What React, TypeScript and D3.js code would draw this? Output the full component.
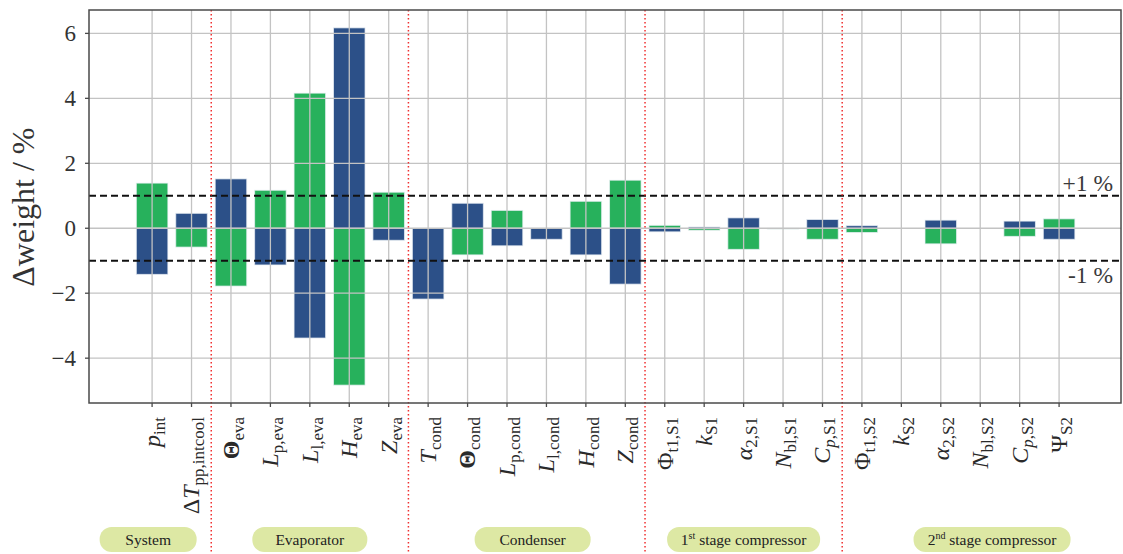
import React from "react";
import * as d3 from "d3";

// Parameter symbols: main glyph, whether it is italic/bold, and the subscript
const symbols: { pre?: string; main: string; style: "i" | "b" | "r"; sub: string; subItalic?: string }[] = [
  { main: "p", style: "i", sub: "int" },
  { pre: "Δ", main: "T", style: "i", sub: "pp,intcool" },
  { main: "Θ", style: "b", sub: "eva" },
  { main: "L", style: "i", sub: "p,eva" },
  { main: "L", style: "i", sub: "l,eva" },
  { main: "H", style: "i", sub: "eva" },
  { main: "Z", style: "i", sub: "eva" },
  { main: "T", style: "i", sub: "cond" },
  { main: "Θ", style: "b", sub: "cond" },
  { main: "L", style: "i", sub: "p,cond" },
  { main: "L", style: "i", sub: "l,cond" },
  { main: "H", style: "i", sub: "cond" },
  { main: "Z", style: "i", sub: "cond" },
  { main: "Φ", style: "r", sub: "t1,S1" },
  { main: "k", style: "i", sub: "S1" },
  { main: "α", style: "i", sub: "2,S1" },
  { main: "N", style: "i", sub: "bl,S1" },
  { main: "C", style: "i", sub: ",S1", subItalic: "p" },
  { main: "Φ", style: "r", sub: "t1,S2" },
  { main: "k", style: "i", sub: "S2" },
  { main: "α", style: "i", sub: "2,S2" },
  { main: "N", style: "i", sub: "bl,S2" },
  { main: "C", style: "i", sub: ",S2", subItalic: "p" },
  { main: "Ψ", style: "r", sub: "S2" },
];

// Δweight in % for the two cases
const greenValues = [
  1.39, -0.58, -1.78, 1.17, 4.16, -4.83, 1.11, 0, -0.82, 0.55, 0, 0.83, 1.48, 0.09, -0.06, -0.65, -0.02,
  -0.34, -0.13, 0, -0.48, 0, -0.25, 0.29,
];
const blueValues = [
  -1.42, 0.46, 1.52, -1.13, -3.38, 6.17, -0.37, -2.18, 0.77, -0.54, -0.34, -0.82, -1.72, -0.11, 0.04, 0.32, 0,
  0.27, 0.08, 0, 0.25, 0, 0.22, -0.34,
];

const yTicks = [-4, -2, 0, 2, 4, 6];
const thresholds = [1, -1];
const thresholdLabels = ["+1 %", "-1 %"];

// Component groups: label, superscript, center in category units
const groupNames = ["System", "Evaporator", "Condenser", "1", "2"];
const groupSup = ["", "", "", "st", "nd"];
const groupRest = ["", "", "", " stage compressor", " stage compressor"];
const groupCenters = [-0.1, 4, 9.65, 15, 21.3];
const groupWidths = [97, 115, 116, 153, 157];
const separators = [1.5, 6.5, 12.5, 17.5];

const W = 1123;
const H = 554;
const margin = { left: 89, right: 1121, top: 10, bottom: 403 };
const serif = '"Liberation Serif", "Times New Roman", serif';
const GREEN = "#27b15c";
const BLUE = "#2c5088";

export default function App() {
  const x = d3.scaleLinear().domain([-1.6, 24.57]).range([margin.left, margin.right]);
  const y = d3.scaleLinear().domain([-5.38, 6.72]).range([margin.bottom, margin.top]);
  const bw = x(0.8) - x(0);

  const bar = (v: number, i: number, color: string, key: string) => {
    if (v === 0) return null;
    const y0 = y(Math.max(0, v));
    const y1 = y(Math.min(0, v));
    return (
      <rect
        key={key}
        x={x(i) - bw / 2}
        y={y0}
        width={bw}
        height={Math.max(0.8, y1 - y0)}
        fill={color}
        stroke="rgba(235,240,245,0.75)"
        strokeWidth={1}
      />
    );
  };

  const textStyle = { fontFamily: serif } as React.CSSProperties;

  return (
    <svg
      width={W}
      height={H}
      style={{ position: "absolute", left: 0, top: 0, background: "#fff", fontFamily: serif }}
    >
      {/* bars */}
      {symbols.map((_, i) => bar(greenValues[i], i, GREEN, "g" + i))}
      {symbols.map((_, i) => bar(blueValues[i], i, BLUE, "b" + i))}

      {/* grid */}
      {yTicks.map((t) => (
        <line key={"hy" + t} x1={margin.left} x2={margin.right} y1={y(t)} y2={y(t)} stroke="#c3c3c3" strokeWidth={1.3} />
      ))}
      {symbols.map((_, i) => (
        <line key={"vx" + i} x1={x(i)} x2={x(i)} y1={margin.top} y2={margin.bottom} stroke="#c3c3c3" strokeWidth={1.3} />
      ))}

      {/* ±1 % thresholds */}
      {thresholds.map((t, k) => (
        <g key={"th" + k}>
          <line x1={margin.left} x2={margin.right} y1={y(t)} y2={y(t)} stroke="#111" strokeWidth={2} strokeDasharray="7,4" />
          <text
            x={1113}
            y={t > 0 ? y(t) - 5 : y(t) + 22}
            textAnchor="end"
            fontSize={23.5}
            fill="#3a3a3a"
            style={textStyle}
          >
            {thresholdLabels[k]}
          </text>
        </g>
      ))}

      {/* group separators */}
      {separators.map((s) => (
        <line key={"sep" + s} x1={x(s)} x2={x(s)} y1={margin.top} y2={H} stroke="#f03030" strokeWidth={1.5} strokeDasharray="1.5,2.5" />
      ))}

      {/* frame */}
      <rect
        x={margin.left}
        y={margin.top}
        width={margin.right - margin.left}
        height={margin.bottom - margin.top}
        fill="none"
        stroke="#4a4a4a"
        strokeWidth={1.5}
      />

      {/* y axis */}
      {yTicks.map((t) => (
        <g key={"yt" + t}>
          <line x1={margin.left - 4} x2={margin.left} y1={y(t)} y2={y(t)} stroke="#4a4a4a" strokeWidth={1.3} />
          <text x={76} y={y(t)} dy="0.35em" textAnchor="end" fontSize={23} fill="#333" style={textStyle}>
            {t < 0 ? "−" + Math.abs(t) : String(t)}
          </text>
        </g>
      ))}
      <text
        transform={`translate(34, ${y(0.65)}) rotate(-90)`}
        textAnchor="middle"
        fontSize={32}
        fill="#333"
        style={textStyle}
      >
        Δweight / %
      </text>

      {/* x axis ticks and symbol labels */}
      {symbols.map((s, i) => (
        <g key={"xt" + i}>
          <line x1={x(i)} x2={x(i)} y1={margin.bottom} y2={margin.bottom + 4} stroke="#4a4a4a" strokeWidth={1.3} />
          <text
            transform={`translate(${x(i)}, 417) rotate(-90)`}
            textAnchor="end"
            dy="0.33em"
            fontSize={24}
            fill="#2a2a2a"
            style={textStyle}
          >
            {s.pre ? <tspan>{s.pre}</tspan> : null}
            <tspan fontStyle={s.style === "i" ? "italic" : "normal"} fontWeight={s.style === "b" ? "bold" : "normal"}>
              {s.main}
            </tspan>
            <tspan fontSize={17} dy="5">
              {s.subItalic ? <tspan fontStyle="italic">{s.subItalic}</tspan> : null}
              {s.sub}
            </tspan>
          </text>
        </g>
      ))}

      {/* component group badges */}
      {groupNames.map((g, k) => {
        const cx = x(groupCenters[k]);
        const w = groupWidths[k];
        return (
          <g key={"grp" + k}>
            <rect x={cx - w / 2} y={527} width={w} height={25} rx={12} fill="#dde8a4" />
            <text x={cx} y={545} textAnchor="middle" fontSize={15.5} fill="#222" style={textStyle}>
              {g}
              {groupSup[k] ? (
                <tspan fontSize={10} dy="-6">
                  {groupSup[k]}
                </tspan>
              ) : null}
              {groupRest[k] ? <tspan dy={groupSup[k] ? "6" : "0"}>{groupRest[k]}</tspan> : null}
            </text>
          </g>
        );
      })}
    </svg>
  );
}
